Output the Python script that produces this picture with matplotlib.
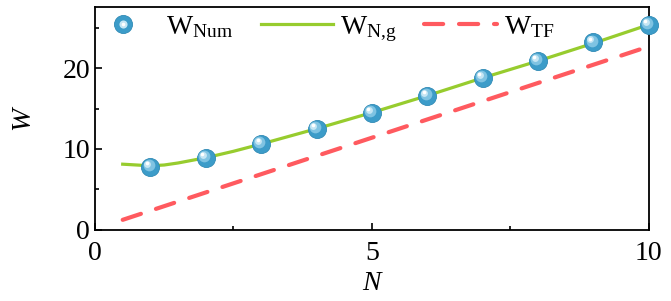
import matplotlib
matplotlib.use('Agg')
import matplotlib.pyplot as plt
from matplotlib.ticker import MultipleLocator
from matplotlib.legend_handler import HandlerTuple
from matplotlib.transforms import offset_copy
import numpy as np

plt.rcParams['font.family'] = 'Liberation Serif'
plt.rcParams['mathtext.fontset'] = 'custom'
plt.rcParams['mathtext.rm'] = 'Liberation Serif'
plt.rcParams['mathtext.it'] = 'Liberation Serif:italic'

# data
n_num = [1, 2, 3, 4, 5, 6, 7, 8, 9, 10]
w_num = [7.8, 8.9, 10.6, 12.5, 14.5, 16.6, 18.8, 20.9, 23.2, 25.4]

n_fit = [0.5, 0.75, 1.0, 1.25, 1.5, 2.0, 2.5, 3.0, 4.0, 5.0, 6.0, 7.0, 8.0, 9.0, 10.0]
w_fit = [8.1, 8.0, 7.9, 8.0, 8.25, 8.9, 9.7, 10.6, 12.5, 14.5, 16.6, 18.8, 20.9, 23.1, 25.4]

n_tf = [0.5, 10.0]
w_tf = [1.2, 22.7]

fig = plt.figure(figsize=(6.71, 3.01), dpi=100)
ax = fig.add_axes([0.1416, 0.2375, 0.8254, 0.7395])

green = '#97cc2e'
red = '#ff5a5f'
blue = '#3c9cc9'

ln_fit, = ax.plot(n_fit, w_fit, color=green, lw=2.3, zorder=2)
ln_tf, = ax.plot(n_tf, w_tf, color=red, lw=3, dashes=(4.6, 3.8),
                 dash_capstyle='round', zorder=2)

# sphere-like markers: base + lighter layers shifted up-left
ms = 13
base, = ax.plot(n_num, w_num, 'o', ms=ms, color=blue, mec='#2f8ab5', mew=0.6,
                zorder=3, clip_on=False)
tr1 = offset_copy(ax.transData, fig=fig, x=-1.2, y=1.2, units='points')
tr2 = offset_copy(ax.transData, fig=fig, x=-2.2, y=2.2, units='points')
tr3 = offset_copy(ax.transData, fig=fig, x=-2.6, y=2.6, units='points')
ax.plot(n_num, w_num, 'o', ms=ms * 0.65, color='#7fc3e2', mew=0, transform=tr1,
        zorder=4, clip_on=False)
ax.plot(n_num, w_num, 'o', ms=ms * 0.38, color='#c6e6f4', mew=0, transform=tr2,
        zorder=5, clip_on=False)
ax.plot(n_num, w_num, 'o', ms=ms * 0.2, color='white', mew=0, transform=tr3,
        zorder=6, clip_on=False)

h_mid, = ax.plot([], [], 'o', ms=ms * 0.45, color='#c6e6f4', mew=0)
h_top, = ax.plot([], [], 'o', ms=ms * 0.2, color='white', mew=0)

ax.set_xlim(0, 10)
ax.set_ylim(0, 27.6)
ax.xaxis.set_major_locator(MultipleLocator(5))
ax.xaxis.set_minor_locator(MultipleLocator(2.5))
ax.yaxis.set_major_locator(MultipleLocator(10))
ax.yaxis.set_minor_locator(MultipleLocator(5))
ax.tick_params(which='both', direction='in', labelsize=20, width=1.2)
ax.tick_params(which='major', length=5)
ax.tick_params(which='minor', length=3)
ax.tick_params(axis='x', pad=8)
for s in ax.spines.values():
    s.set_linewidth(1.3)

ax.set_xlabel('N', fontsize=20, style='italic', labelpad=4)
ax.set_ylabel('W', fontsize=20, style='italic', labelpad=20)

leg = ax.legend([(base, h_mid, h_top), ln_fit, ln_tf],
                [r'W$_{\rm Num}$', r'W$_{\rm N{,}g}$', r'W$_{\rm TF}$'],
                handler_map={tuple: HandlerTuple(ndivide=1, pad=0)},
                loc='upper left', ncol=3, frameon=False, fontsize=20,
                handlelength=2.6, handletextpad=0.25, columnspacing=1.0,
                borderaxespad=0.1, bbox_to_anchor=(-0.04, 1.03))

fig.savefig('out.png', dpi=100)
